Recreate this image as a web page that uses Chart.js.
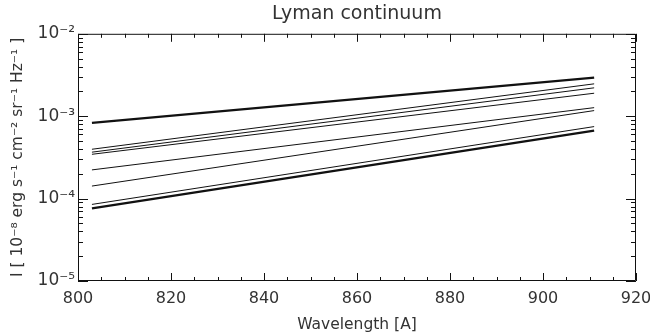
<!DOCTYPE html>
<html>
<head>
<meta charset="utf-8">
<script src="https://cdn.jsdelivr.net/npm/chart.js@4/dist/chart.umd.min.js"></script>
<style>
  html, body { margin: 0; padding: 0; background: #fff; }
  #wrap { width: 650px; height: 334px; }
</style>
</head>
<body>
<div id="wrap"><canvas id="myChart"></canvas></div>
<script>
// wavelength range of each curve [A]
const wavelengths = [803, 911];
// intensity at the two ends, one entry per curve (top to bottom)
const startValues = [8.3e-4, 3.97e-4, 3.66e-4, 3.45e-4, 2.23e-4, 1.42e-4, 8.5e-5, 7.6e-5];
const endValues   = [2.94e-3, 2.47e-3, 2.21e-3, 1.90e-3, 1.27e-3, 1.17e-3, 7.48e-4, 6.68e-4];
// which curves are drawn heavy
const heavyLines = [true, false, false, false, false, false, false, true];
// axis ticks
const xTicks = [800, 820, 840, 860, 880, 900, 920];
const yTicks = [1e-5, 1e-4, 1e-3, 1e-2];

const supers = { '-': '⁻', '0': '⁰', '1': '¹', '2': '²', '3': '³', '4': '⁴', '5': '⁵', '6': '⁶', '7': '⁷', '8': '⁸', '9': '⁹' };
function powLabel(v) {
  const e = String(Math.round(Math.log10(v)));
  return '10' + e.split('').map(c => supers[c]).join('');
}

const datasets = startValues.map((s, i) => ({
  data: [{ x: wavelengths[0], y: s }, { x: wavelengths[1], y: endValues[i] }],
  borderColor: '#111',
  borderWidth: heavyLines[i] ? 2.4 : 1,
  pointRadius: 0,
  fill: false,
  tension: 0
}));

const FONT = "'DejaVu Sans', sans-serif";
const TXT = '#333';

// IDL-style box with inward ticks
const boxTicks = {
  id: 'boxTicks',
  afterDraw(chart) {
    const ctx = chart.ctx;
    const a = chart.chartArea;
    const xs = chart.scales.x, ys = chart.scales.y;
    ctx.save();
    ctx.strokeStyle = '#111';
    ctx.lineWidth = 1;
    ctx.beginPath();
    ctx.rect(a.left + 0.5, a.top + 0.5, a.right - a.left - 1, a.bottom - a.top - 1);
    ctx.stroke();
    ctx.beginPath();
    for (let v = xs.min; v <= xs.max; v += 5) {
      const px = Math.round(xs.getPixelForValue(v)) + 0.5;
      const len = v % 20 === 0 ? 8 : 4;
      ctx.moveTo(px, a.bottom); ctx.lineTo(px, a.bottom - len);
      ctx.moveTo(px, a.top); ctx.lineTo(px, a.top + len);
    }
    for (let d = -5; d <= -3; d++) {
      for (let m = 1; m <= 10; m++) {
        const v = m * Math.pow(10, d);
        const py = Math.round(ys.getPixelForValue(v)) + 0.5;
        const len = (m === 1 || m === 10) ? 10 : 5;
        ctx.moveTo(a.left, py); ctx.lineTo(a.left + len, py);
        ctx.moveTo(a.right, py); ctx.lineTo(a.right - len, py);
      }
    }
    ctx.stroke();
    ctx.restore();
  }
};

const ctx = document.getElementById('myChart').getContext('2d');
const myChart = new Chart(ctx, {
  type: 'line',
  data: { datasets: datasets },
  options: {
    responsive: true,
    maintainAspectRatio: false,
    animation: false,
    layout: { padding: { left: 0, right: 14, top: 0, bottom: 0 } },
    plugins: {
      legend: { display: false },
      tooltip: { enabled: false },
      title: {
        display: true,
        text: 'Lyman continuum',
        fullSize: false,
        color: TXT,
        font: { family: FONT, size: 19, weight: 'normal' },
        padding: { top: 3, bottom: 8 }
      }
    },
    scales: {
      x: {
        type: 'linear',
        min: 800,
        max: 920,
        afterBuildTicks: s => { s.ticks = xTicks.map(v => ({ value: v })); },
        afterFit: s => { s.height = 53; s.paddingLeft = 0; s.paddingRight = 0; },
        grid: { display: false, drawTicks: false },
        border: { display: false },
        ticks: { color: TXT, font: { family: FONT, size: 16 }, padding: 8, maxRotation: 0 },
        title: {
          display: true,
          text: 'Wavelength [A]',
          color: TXT,
          font: { family: FONT, size: 15.5 },
          padding: { top: 0, bottom: 0 }
        }
      },
      y: {
        type: 'logarithmic',
        min: 1e-5,
        max: 1e-2,
        afterBuildTicks: s => { s.ticks = yTicks.map(v => ({ value: v, major: true })); },
        afterFit: s => { s.width = 78; },
        grid: { display: false, drawTicks: false },
        border: { display: false },
        ticks: {
          color: TXT,
          font: { family: FONT, size: 17 },
          padding: 3,
          callback: v => powLabel(v)
        },
        title: {
          display: true,
          text: 'I [ 10⁻⁸ erg s⁻¹ cm⁻² sr⁻¹ Hz⁻¹ ]',
          color: TXT,
          font: { family: FONT, size: 15.5 },
          padding: { top: 9, bottom: 0 }
        }
      }
    }
  },
  plugins: [boxTicks]
});
</script>
</body>
</html>
